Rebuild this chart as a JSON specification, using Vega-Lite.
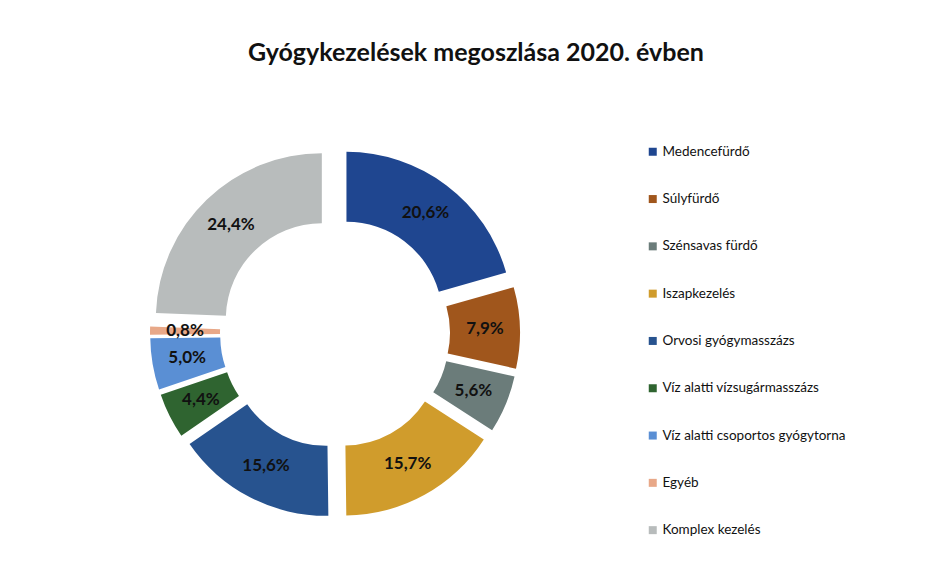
{
  "$schema": "https://vega.github.io/schema/vega-lite/v6.json",
  "autosize": {"type": "none"},
  "width": 670,
  "height": 496,
  "padding": {"left": 0, "top": 85, "right": 261, "bottom": 0},
  "background": "#ffffff",
  "title": {
    "text": "Gyógykezelések megoszlása 2020. évben",
    "font": "Lato",
    "fontSize": 25,
    "fontWeight": "bold",
    "color": "#111111",
    "anchor": "middle",
    "dx": 141,
    "offset": 19
  },
  "data": {
    "values": [
      {"idx": 1, "category": "Medencefürdő", "value": 20.6, "label": "20,6%"},
      {"idx": 2, "category": "Súlyfürdő", "value": 7.9, "label": "7,9%"},
      {"idx": 3, "category": "Szénsavas fürdő", "value": 5.6, "label": "5,6%"},
      {"idx": 4, "category": "Iszapkezelés", "value": 15.7, "label": "15,7%"},
      {"idx": 5, "category": "Orvosi gyógymasszázs", "value": 15.6, "label": "15,6%"},
      {"idx": 6, "category": "Víz alatti vízsugármasszázs", "value": 4.4, "label": "4,4%"},
      {"idx": 7, "category": "Víz alatti csoportos gyógytorna", "value": 5.0, "label": "5,0%"},
      {"idx": 8, "category": "Egyéb", "value": 0.8, "label": "0,8%"},
      {"idx": 9, "category": "Komplex kezelés", "value": 24.4, "label": "24,4%"}
    ]
  },
  "encoding": {
    "theta": {"field": "value", "type": "quantitative", "stack": true, "scale": {"domain": [0, 100]}},
    "order": {"field": "idx", "type": "quantitative"}
  },
  "layer": [
    {
      "mark": {
        "type": "arc",
        "innerRadius": 96,
        "outerRadius": 166,
        "xOffset": {"expr": "19*sin(PI*(datum.value_start+datum.value_end)/100)"},
        "yOffset": {"expr": "-19*cos(PI*(datum.value_start+datum.value_end)/100)"}
      },
      "encoding": {
        "color": {
          "field": "category",
          "type": "nominal",
          "sort": null,
          "scale": {
            "domain": ["Medencefürdő", "Súlyfürdő", "Szénsavas fürdő", "Iszapkezelés", "Orvosi gyógymasszázs", "Víz alatti vízsugármasszázs", "Víz alatti csoportos gyógytorna", "Egyéb", "Komplex kezelés"],
            "range": ["#1f4690", "#a0561c", "#6b7c7a", "#d09c2c", "#27538f", "#2f6430", "#5a8fd4", "#e8a888", "#b8bcbc"]
          },
          "legend": {
            "title": null,
            "orient": "none",
            "legendX": 646,
            "legendY": 60,
            "symbolType": "square",
            "symbolSize": 64,
            "symbolStrokeWidth": 0,
            "labelFont": "Lato",
            "labelFontSize": 13.5,
            "labelColor": "#111111",
            "rowPadding": 32.3,
            "labelOffset": 3,
            "labelLimit": 300
          }
        }
      }
    },
    {
      "mark": {"type": "text", "radius": 150, "font": "Lato", "fontSize": 17, "fontWeight": "bold", "color": "#111111"},
      "encoding": {"text": {"field": "label", "type": "nominal"}}
    }
  ]
}
